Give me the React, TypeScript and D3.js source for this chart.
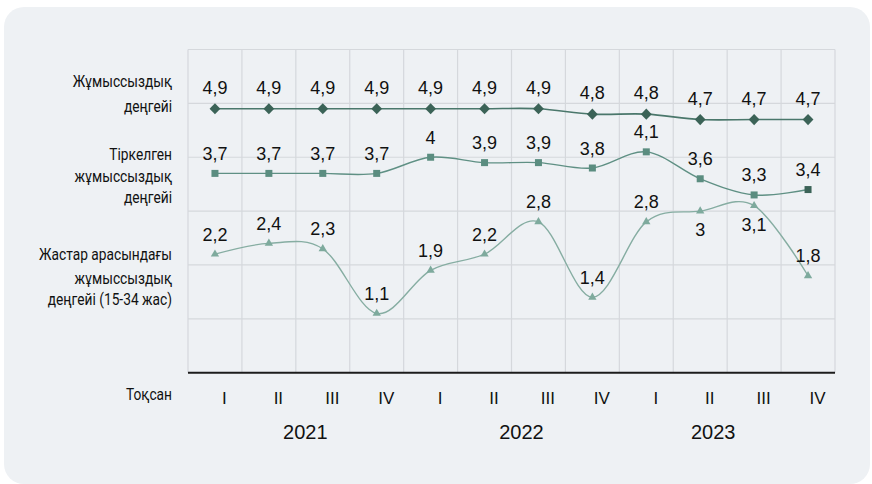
import React from "react";
import * as d3 from "d3";

// ---------- data ----------
const quarters = ["I", "II", "III", "IV", "I", "II", "III", "IV", "I", "II", "III", "IV"];
const years = ["2021", "2022", "2023"];
const unemployment = [4.9, 4.9, 4.9, 4.9, 4.9, 4.9, 4.9, 4.8, 4.8, 4.7, 4.7, 4.7];
const registered = [3.7, 3.7, 3.7, 3.7, 4, 3.9, 3.9, 3.8, 4.1, 3.6, 3.3, 3.4];
const youth = [2.2, 2.4, 2.3, 1.1, 1.9, 2.2, 2.8, 1.4, 2.8, 3, 3.1, 1.8];
const rowLabels = [
  ["Жұмыссыздық", "деңгейі"],
  ["Тіркелген", "жұмыссыздық", "деңгейі"],
  ["Жастар арасындағы", "жұмыссыздық", "деңгейі (15-34 жас)"],
];
const axisTitle = "Тоқсан";

// ---------- layout ----------
const W = 872;
const H = 484;
const plotLeft = 188;
const plotRight = 835;
const plotTop = 49.5;
const plotBottom = 372.7;
const yMax = 6;
const rowLabelBaselines = [
  [87, 112],
  [160, 182, 203],
  [260, 284, 305],
];
const yearSpan = [
  [0, 3],
  [4, 7],
  [8, 11],
];
const yearOffsets = [9.5, 10, -14];
const youthBelow = [false, false, false, false, false, false, false, false, false, true, true, false];

const fmt = (v: number) => String(v).replace(".", ",");

export default function App() {
  const idx = d3.range(quarters.length);
  const x = d3.scaleBand<number>().domain(idx).range([plotLeft, plotRight]).padding(0);
  const bw = x.bandwidth();
  const cx = (i: number) => (x(i) as number) + bw / 2;
  const y = d3.scaleLinear().domain([0, yMax]).range([plotBottom, plotTop]);

  const line = d3
    .line<number>()
    .x((_, i) => cx(i))
    .y((d) => y(d))
    .curve(d3.curveCardinal.tension(0));

  const gridY = d3.range(1, yMax + 1);
  const gridX = d3.range(0, quarters.length + 1).map((i) => plotLeft + i * bw);

  const labelFont = "Roboto, 'Liberation Sans', Arial, sans-serif";
  const numFont = "'Liberation Sans', Arial, Helvetica, sans-serif";

  const c1 = "#3b6357";
  const c1Line = "#4a776b";
  const c2 = "#5b8d80";
  const c2Line = "#5f9084";
  const c3 = "#7eaa9d";
  const c3Line = "#86ada2";

  const diamond = "M0,-5.6L5.4,0L0,5.6L-5.4,0Z";
  const triangle = d3.symbol().type(d3.symbolTriangle).size(30)();

  return (
    <div style={{ position: "absolute", left: 0, top: 0, width: W, height: H, background: "#ffffff" }}>
      <svg width={W} height={H} style={{ display: "block" }}>
        <rect x={4} y={7} width={866} height={477} rx={20} ry={20} fill="#eef1f4" />

        {/* grid */}
        {gridY.map((g) => (
          <line key={"gy" + g} x1={plotLeft} x2={plotRight} y1={y(g)} y2={y(g)} stroke="#d5d8dc" strokeWidth={1.2} />
        ))}
        {gridX.map((gx, i) => (
          <line key={"gx" + i} x1={gx} x2={gx} y1={plotTop} y2={plotBottom} stroke="#d5d8dc" strokeWidth={1.2} />
        ))}
        <line x1={plotLeft} x2={plotRight} y1={plotBottom} y2={plotBottom} stroke="#1c1c1c" strokeWidth={2} />

        {/* row labels */}
        <g transform="translate(172,0) scale(0.86,1)">
          {rowLabels.map((lines, r) => (
            <g key={"rl" + r}>
              {lines.map((t, k) => (
                <text
                  key={k}
                  x={0}
                  y={rowLabelBaselines[r][k]}
                  textAnchor="end"
                  fontFamily={labelFont}
                  fontSize={16}
                  fill="#111"
                >
                  {t}
                </text>
              ))}
            </g>
          ))}
          <text x={0} y={400} textAnchor="end" fontFamily={labelFont} fontSize={16} fill="#111">
            {axisTitle}
          </text>
        </g>

        {/* series lines */}
        <path d={line(youth) || ""} fill="none" stroke={c3Line} strokeWidth={1.4} />
        <path d={line(registered) || ""} fill="none" stroke={c2Line} strokeWidth={1.4} />
        <path d={line(unemployment) || ""} fill="none" stroke={c1Line} strokeWidth={1.6} />

        {/* markers */}
        {unemployment.map((v, i) => (
          <path key={"m1" + i} d={diamond} transform={`translate(${cx(i)},${y(v)})`} fill={c1} />
        ))}
        {registered.map((v, i) => (
          <rect
            key={"m2" + i}
            x={cx(i) - 3.5}
            y={y(v) - 3.5}
            width={7}
            height={7}
            fill={i === registered.length - 1 ? c1 : c2}
          />
        ))}
        {youth.map((v, i) => (
          <path key={"m3" + i} d={triangle || ""} transform={`translate(${cx(i)},${y(v)})`} fill={c3} />
        ))}

        {/* data labels */}
        {[
          { data: unemployment, dy: -15, below: null as boolean[] | null },
          { data: registered, dy: -13.5, below: null },
          { data: youth, dy: -13.5, below: youthBelow },
        ].map((s, si) =>
          s.data.map((v, i) => (
            <text
              key={`dl${si}-${i}`}
              x={cx(i)}
              y={y(v) + (s.below && s.below[i] ? 25 : s.dy)}
              textAnchor="middle"
              fontFamily={numFont}
              fontSize={18}
              fill="#111"
            >
              {fmt(v)}
            </text>
          ))
        )}

        {/* x axis labels */}
        {quarters.map((q, i) => (
          <text key={"q" + i} x={cx(i) + 9.5} y={404} textAnchor="middle" fontFamily={numFont} fontSize={17} fill="#111">
            {q}
          </text>
        ))}
        {years.map((yr, k) => {
          const a = x(yearSpan[k][0]) as number;
          const b = (x(yearSpan[k][1]) as number) + bw;
          return (
            <text
              key={"y" + yr}
              x={(a + b) / 2 + yearOffsets[k]}
              y={439}
              textAnchor="middle"
              fontFamily={numFont}
              fontSize={20}
              fill="#111"
            >
              {yr}
            </text>
          );
        })}
      </svg>
    </div>
  );
}
